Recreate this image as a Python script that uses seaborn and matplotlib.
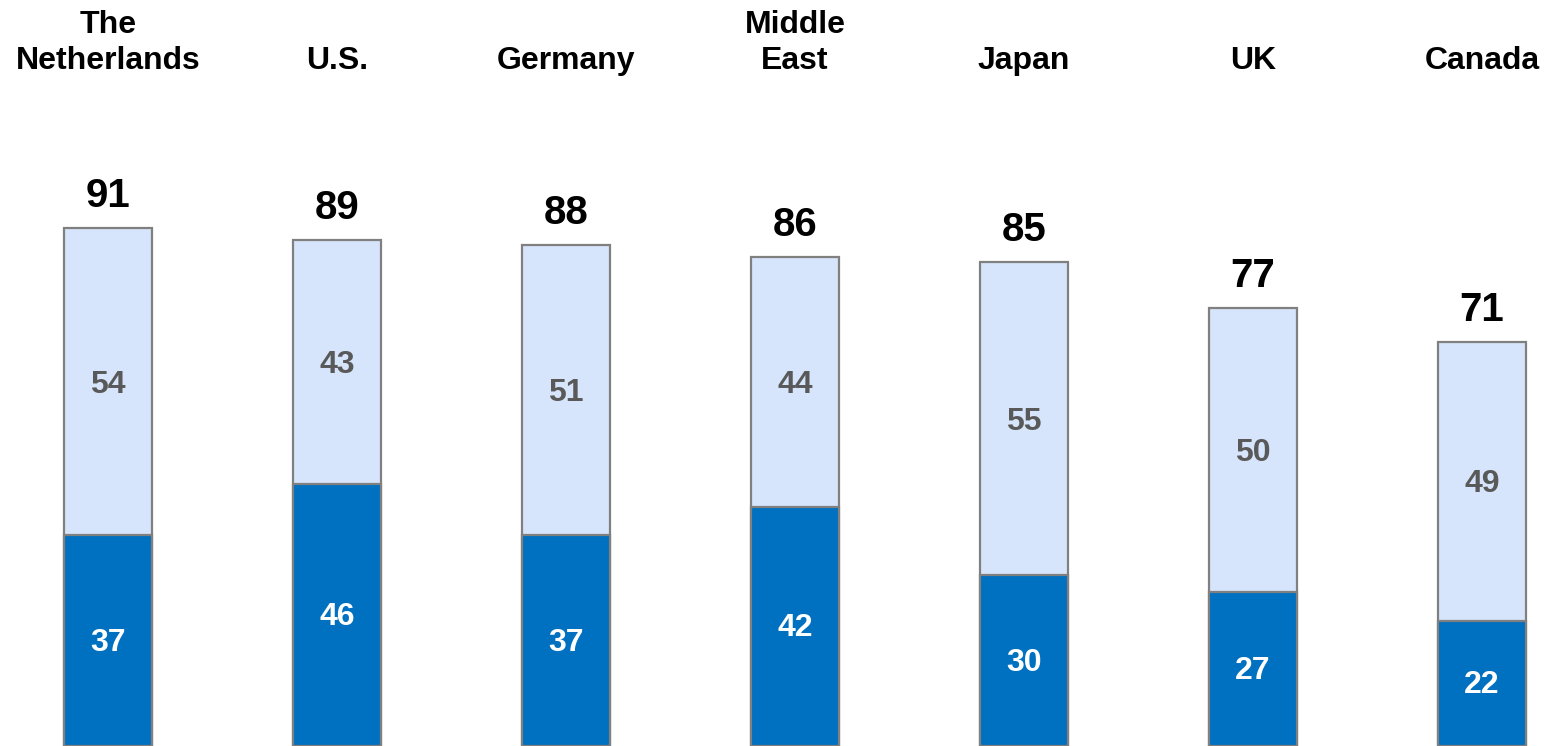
import matplotlib
matplotlib.use("Agg")
import matplotlib.pyplot as plt
import seaborn as sns
import pandas as pd

categories = ["The\nNetherlands", "U.S.", "Germany", "Middle\nEast", "Japan", "UK", "Canada"]
dark_values = [37, 46, 37, 42, 30, 27, 22]
light_values = [54, 43, 51, 44, 55, 50, 49]
totals = [91, 89, 88, 86, 85, 77, 71]

sns.set_theme(style="white")
plt.rcParams['font.family'] = ['Liberation Sans', 'DejaVu Sans']

df = pd.DataFrame({"cat": categories, "dark": dark_values, "light": light_values,
                   "total": [d + l for d, l in zip(dark_values, light_values)]})

fig = plt.figure(figsize=(15.65, 7.46), dpi=100)
ax = fig.add_axes([0, 0, 1, 1])

DARK = "#0070C0"
LIGHT = "#D6E5FB"
EDGE = "#808080"
W = 0.384

sns.barplot(data=df, x="cat", y="total", color=LIGHT, saturation=1, width=W,
            edgecolor=EDGE, linewidth=1.6, ax=ax)
sns.barplot(data=df, x="cat", y="dark", color=DARK, saturation=1, width=W,
            edgecolor=EDGE, linewidth=1.6, ax=ax)

ax.set_xlim(-0.4716, 6.3624)
ax.set_ylim(0, 131.1)
ax.axis("off")

for i, (d, l, t) in enumerate(zip(dark_values, light_values, totals)):
    ax.text(i, d / 2 - 0.35, str(d), ha="center", va="center", color="white",
            fontsize=23, fontweight="bold")
    ax.text(i, d + l / 2 - 0.5, str(l), ha="center", va="center", color="#595959",
            fontsize=23, fontweight="bold")
    ax.annotate(str(t), (i, d + l), xytext=(0, 15), textcoords="offset points",
                ha="center", va="baseline", color="black", fontsize=29, fontweight="bold")
    ax.text(i, 0.898, categories[i], transform=ax.get_xaxis_transform(),
            ha="center", va="bottom", color="black", fontsize=23, fontweight="bold",
            linespacing=1.25)

fig.savefig("out.png", dpi=100)
